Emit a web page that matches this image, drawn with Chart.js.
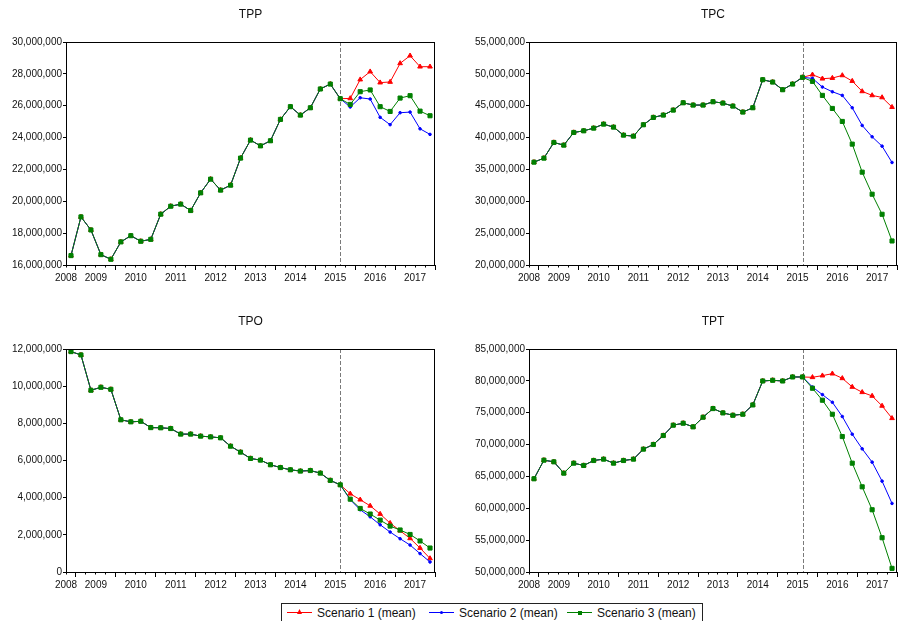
<!DOCTYPE html>
<html>
<head>
<meta charset="utf-8">
<script src="https://cdn.jsdelivr.net/npm/chart.js@4.4.1/dist/chart.umd.min.js"></script>
<style>
  html, body { margin: 0; padding: 0; background: #fff; width: 901px; height: 621px; overflow: hidden; }
  body { position: relative; font-family: "Liberation Sans", Arial, Helvetica, sans-serif; }
  canvas.panel { position: absolute; }
  #legend { position: absolute; left: 281px; top: 603px; width: 422px; height: 24px; border: 1px solid #222; box-sizing: border-box; }
  #legend .key { position: absolute; top: 8px; width: 25px; height: 1px; }
  #legend .key .ln { position: absolute; left: 0; top: 0; width: 25px; height: 1px; }
  #legend .key .mk { position: absolute; }
  #legend .lab { position: absolute; top: 1px; font-size: 12px; line-height: 16px; color: #111; white-space: nowrap; }
</style>
</head>
<body>
<canvas id="tpp" class="panel" width="440" height="285" style="left:0px;top:0px"></canvas>
<canvas id="tpc" class="panel" width="442" height="285" style="left:460px;top:0px"></canvas>
<canvas id="tpo" class="panel" width="440" height="285" style="left:0px;top:307px"></canvas>
<canvas id="tpt" class="panel" width="442" height="285" style="left:460px;top:307px"></canvas>
<div id="legend"></div>

<script>
// Quarterly values in millions, 2008Q4 .. 2015Q3 (history) and 2015Q4 .. 2017Q4 (scenarios)
const yearLabels = ['2008', '2009', '2010', '2011', '2012', '2013', '2014', '2015', '2016', '2017'];
const scenarioNames = ['Scenario 1 (mean)', 'Scenario 2 (mean)', 'Scenario 3 (mean)'];

const tppHistory = [16.59, 19.02, 18.20, 16.65, 16.36, 17.45, 17.84, 17.49, 17.61, 19.19, 19.69, 19.82, 19.42, 20.53,
                    21.39, 20.70, 21.01, 22.71, 23.84, 23.48, 23.80, 25.14, 25.94, 25.41, 25.87, 27.05, 27.36, 26.44];
const tppScenario1 = [26.46, 27.64, 28.14, 27.45, 27.49, 28.66, 29.14, 28.45, 28.45];
const tppScenario2 = [25.92, 26.50, 26.42, 25.27, 24.81, 25.56, 25.60, 24.55, 24.20];
const tppScenario3 = [26.08, 26.88, 26.99, 25.94, 25.64, 26.48, 26.63, 25.66, 25.37];

const tpcHistory = [36.14, 36.77, 39.23, 38.81, 40.80, 41.06, 41.48, 42.11, 41.64, 40.38, 40.22, 42.01, 43.16, 43.53,
                    44.31, 45.46, 45.10, 45.10, 45.62, 45.41, 44.94, 44.00, 44.68, 49.08, 48.71, 47.51, 48.40, 49.45];
const tpcScenario1 = [49.87, 49.24, 49.34, 49.76, 48.87, 47.25, 46.62, 46.30, 44.78];
const tpcScenario2 = [49.29, 47.93, 47.19, 46.62, 44.68, 41.90, 40.12, 38.65, 36.09];
const tpcScenario3 = [48.82, 46.62, 44.57, 42.53, 38.97, 34.57, 31.11, 27.96, 23.77];

const tpoHistory = [11.86, 11.68, 9.78, 9.94, 9.83, 8.19, 8.08, 8.11, 7.77, 7.76, 7.72, 7.42, 7.42, 7.31,
                    7.27, 7.22, 6.77, 6.45, 6.11, 6.02, 5.77, 5.62, 5.50, 5.43, 5.46, 5.32, 4.93, 4.69];
const tpoScenario1 = [4.21, 3.89, 3.56, 3.12, 2.63, 2.22, 1.81, 1.29, 0.73];
const tpoScenario2 = [3.89, 3.35, 2.97, 2.54, 2.15, 1.79, 1.45, 0.99, 0.54];
const tpoScenario3 = [3.92, 3.42, 3.12, 2.79, 2.47, 2.26, 2.02, 1.67, 1.29];

const tptHistory = [64.63, 67.55, 67.29, 65.51, 67.08, 66.72, 67.50, 67.71, 67.08, 67.50, 67.71, 69.28, 70.01, 71.42,
                    73.04, 73.35, 72.78, 74.29, 75.65, 74.97, 74.60, 74.76, 76.22, 79.98, 80.09, 79.98, 80.61, 80.61];
const tptScenario1 = [80.56, 80.82, 81.13, 80.40, 79.04, 78.21, 77.63, 76.07, 74.13];
const tptScenario2 = [79.04, 77.84, 76.64, 74.40, 71.63, 69.33, 67.24, 64.26, 60.76];
const tptScenario3 = [78.84, 76.96, 74.76, 71.26, 67.08, 63.37, 59.77, 55.38, 50.57];

const FONT = '"Liberation Sans", Arial, Helvetica, sans-serif';
const INK = '#111';
const styles = [
  { color: '#ff0000', pointStyle: 'triangle', radius: 2.7, order: 2 },
  { color: '#0000ff', pointStyle: 'circle', radius: 1.3, order: 1 },
  { color: '#008000', pointStyle: 'rect', radius: 2.9, order: 0 }
];

// quarter index 0 = 2008Q4; year Y starts at index 1 + 4*(Y-2009)
const nQuarters = tppHistory.length + tppScenario1.length;
const boundaries = [];
for (let b = -0.5; b <= nQuarters - 0.5; b += 1) boundaries.push(b);
const labelAt = new Map();
labelAt.set(-0.5, yearLabels[0]);
for (let k = 1; k < yearLabels.length; k++) labelAt.set(2.5 + 4 * (k - 1), yearLabels[k]);
const isYearStart = v => Math.abs(((v - 0.5) % 4 + 4) % 4) < 1e-6;

function withCommas(n) {
  return String(Math.round(n)).replace(/\B(?=(\d{3})+(?!\d))/g, ',');
}

function seriesPoints(history, forecast) {
  const all = history.concat(forecast);
  return all.map((v, i) => ({ x: i, y: v }));
}

// frame around the plot area plus the dashed marker at the last observed quarter
const framePlugin = {
  id: 'plotFrame',
  beforeDatasetsDraw(chart, args, opts) {
    const { ctx, chartArea: { top, bottom }, scales: { x } } = chart;
    const px = Math.round(x.getPixelForValue(opts.splitAt)) + 0.5;
    ctx.save();
    ctx.strokeStyle = '#7a7a7a';
    ctx.lineWidth = 1;
    ctx.setLineDash([4, 2]);
    ctx.beginPath();
    ctx.moveTo(px, top);
    ctx.lineTo(px, bottom);
    ctx.stroke();
    ctx.restore();
  },
  afterDatasetsDraw(chart) {
    const { ctx, chartArea: { left, top, right, bottom } } = chart;
    ctx.save();
    ctx.strokeStyle = '#000';
    ctx.lineWidth = 1;
    ctx.strokeRect(Math.round(left) + 0.5, Math.round(top) + 0.5, Math.round(right - left) - 1, Math.round(bottom - top));
    ctx.restore();
  }
};

const panels = [
  { id: 'tpp', title: 'TPP', hist: tppHistory, sc: [tppScenario1, tppScenario2, tppScenario3], min: 16, max: 30, step: 2, yWidth: 66, padRight: 2 },
  { id: 'tpc', title: 'TPC', hist: tpcHistory, sc: [tpcScenario1, tpcScenario2, tpcScenario3], min: 20, max: 55, step: 5, yWidth: 69, padRight: 0 },
  { id: 'tpo', title: 'TPO', hist: tpoHistory, sc: [tpoScenario1, tpoScenario2, tpoScenario3], min: 0, max: 12, step: 2, yWidth: 66, padRight: 2 },
  { id: 'tpt', title: 'TPT', hist: tptHistory, sc: [tptScenario1, tptScenario2, tptScenario3], min: 50, max: 85, step: 5, yWidth: 69, padRight: 0 }
];

panels.forEach(p => {
  const datasets = p.sc.map((f, i) => ({
    label: scenarioNames[i],
    data: seriesPoints(p.hist, f),
    borderColor: styles[i].color,
    backgroundColor: styles[i].color,
    borderWidth: 1,
    pointStyle: styles[i].pointStyle,
    pointRadius: styles[i].radius,
    pointBorderWidth: 1,
    pointBackgroundColor: styles[i].color,
    pointBorderColor: styles[i].color,
    tension: 0,
    order: styles[i].order
  }));

  new Chart(document.getElementById(p.id), {
    type: 'line',
    data: { datasets },
    options: {
      responsive: false,
      animation: false,
      events: [],
      layout: { padding: { left: 0, right: p.padRight, top: 0, bottom: 0 } },
      plugins: {
        legend: { display: false },
        tooltip: { enabled: false },
        title: {
          display: true, text: p.title, fullSize: false, color: INK,
          font: { family: FONT, size: 12, weight: 'normal' },
          padding: { top: 7, bottom: 20.6 }
        },
        plotFrame: { splitAt: p.hist.length - 1 }
      },
      scales: {
        x: {
          type: 'linear', min: -0.5, max: nQuarters - 0.5, offset: false,
          afterBuildTicks: s => { s.ticks = boundaries.map(v => ({ value: v })); },
          afterFit: s => { s.height = 20; },
          border: { display: false },
          grid: {
            drawOnChartArea: false, drawTicks: true, tickLength: 5, tickColor: '#000', tickWidth: 1,
            tickBorderDash: ctx => (ctx.tick && isYearStart(ctx.tick.value)) ? [] : [2.5, 10]
          },
          ticks: {
            autoSkip: false, maxRotation: 0, minRotation: 0, padding: 2, color: INK,
            font: { family: FONT, size: 10 },
            callback: v => labelAt.get(v) || ''
          }
        },
        y: {
          min: p.min, max: p.max,
          afterFit: s => { s.width = p.yWidth; },
          border: { display: false },
          grid: { drawOnChartArea: false, drawTicks: true, tickLength: 3, tickColor: '#000' },
          ticks: {
            stepSize: p.step, padding: 1, color: INK,
            font: { family: FONT, size: 10 },
            callback: v => withCommas(v * 1e6)
          }
        }
      }
    },
    plugins: [framePlugin]
  });
});

// shared legend
const legend = document.getElementById('legend');
const keyLeft = [5, 147, 285];
scenarioNames.forEach((name, i) => {
  const key = document.createElement('div');
  key.className = 'key';
  key.style.left = keyLeft[i] + 'px';
  const ln = document.createElement('span');
  ln.className = 'ln';
  ln.style.background = styles[i].color;
  key.appendChild(ln);
  const mk = document.createElement('span');
  mk.className = 'mk';
  mk.style.background = styles[i].color;
  if (styles[i].pointStyle === 'triangle') {
    Object.assign(mk.style, { left: '10px', top: '-3px', width: '5px', height: '5px', clipPath: 'polygon(50% 0, 100% 100%, 0 100%)' });
  } else if (styles[i].pointStyle === 'circle') {
    Object.assign(mk.style, { left: '11px', top: '-1px', width: '3px', height: '3px', borderRadius: '50%' });
  } else {
    Object.assign(mk.style, { left: '10.5px', top: '-1.5px', width: '4px', height: '4px' });
  }
  key.appendChild(mk);
  legend.appendChild(key);
  const lab = document.createElement('span');
  lab.className = 'lab';
  lab.style.left = (keyLeft[i] + 30) + 'px';
  lab.textContent = name;
  legend.appendChild(lab);
});
</script>
</body>
</html>
